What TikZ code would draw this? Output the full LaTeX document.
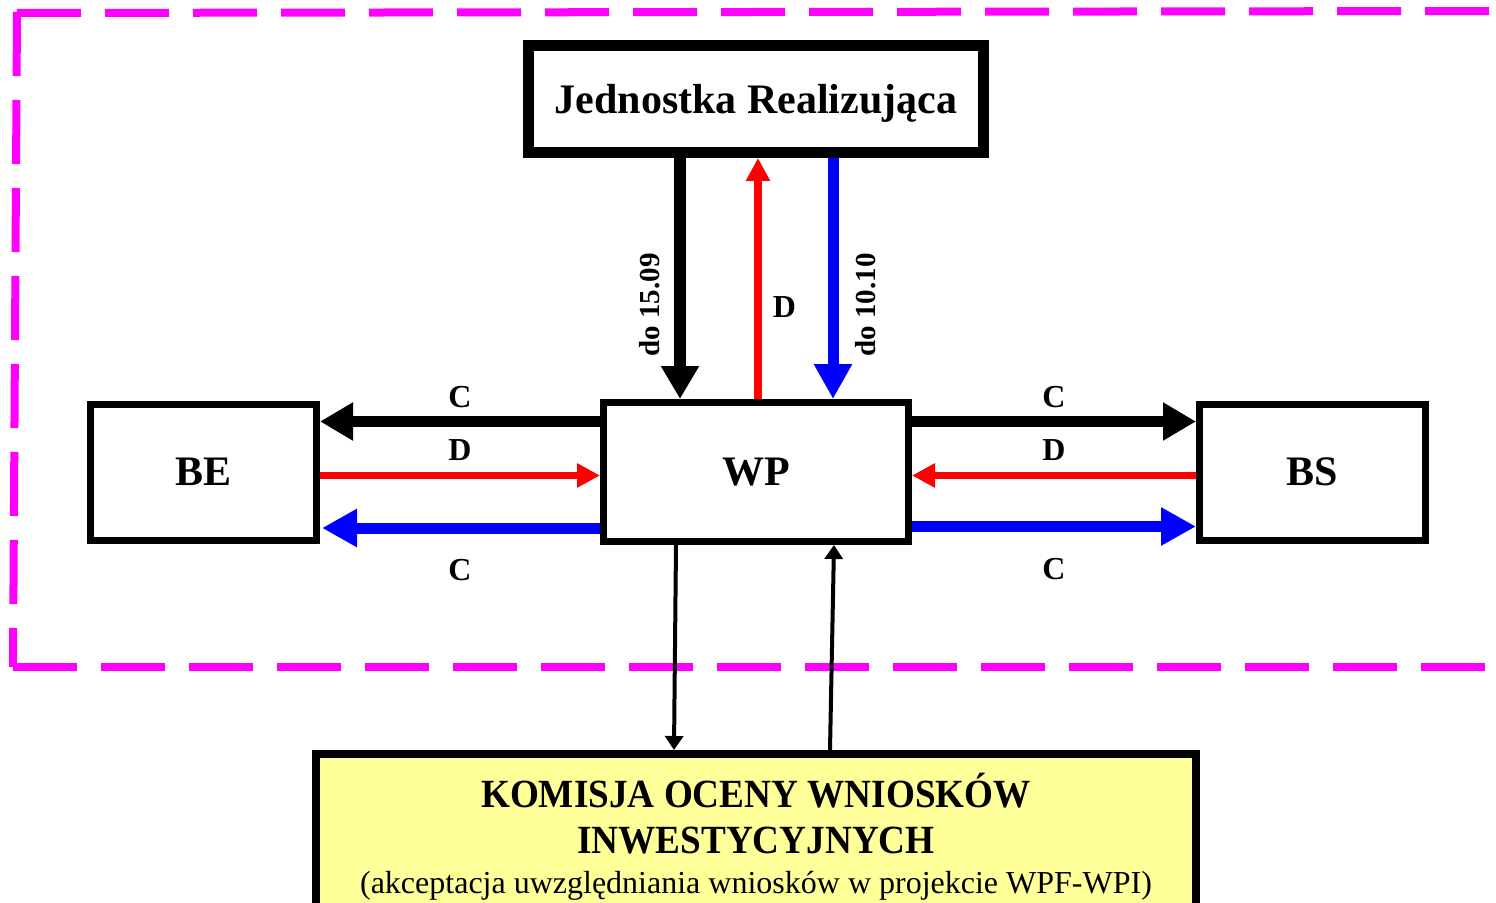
\documentclass[tikz,border=0pt]{standalone}
\usepackage{fontspec}
\setmainfont{Liberation Serif}
\newfontfamily\komfont[FakeStretch=0.93]{Liberation Serif}
\usetikzlibrary{arrows.meta, positioning}
\definecolor{framepink}{RGB}{255,0,255}
\definecolor{komfill}{RGB}{255,255,153}
\definecolor{flowred}{RGB}{255,0,0}
\definecolor{flowblue}{RGB}{0,0,255}
\tikzset{
  unit/.style={rectangle, draw=black, line width=3.5pt, fill=white, minimum width=113pt,
               minimum height=68pt, inner sep=0pt, font=\bfseries\fontsize{21}{25}\selectfont},
  jrbox/.style={unit, line width=5.5pt, minimum width=227.5pt, minimum height=53.5pt, text depth=0pt},
  wpbox/.style={unit, minimum width=152.5pt, minimum height=69.5pt},
  kombox/.style={rectangle, draw=black, line width=4pt, fill=komfill, text width=420pt,
                 inner xsep=10pt, inner ysep=9.5pt, align=flush center, font=\komfont\bfseries\fontsize{20}{23}\selectfont},
  frame/.style={draw=framepink, line width=4pt, dash pattern=on 32pt off 12pt},
  blkarr/.style={-{Triangle[length=16.5pt, width=18pt]}, line width=5.75pt, draw=black},
  redarr/.style={-{Triangle[length=11.5pt, width=11.5pt]}, line width=3.75pt, draw=flowred},
  bluarr/.style={-{Triangle[length=17.5pt, width=18pt]}, line width=5.5pt, draw=flowblue},
  thinarr/.style={-{Triangle[length=7pt, width=9pt]}, line width=2pt, draw=black},
  lbl/.style={font=\bfseries\fontsize{16}{19}\selectfont},
  datelbl/.style={font=\bfseries\fontsize{14.5}{17}\selectfont, rotate=90}
}

\begin{document}
\begin{tikzpicture}[x=0.5pt, y=0.5pt]
\clip (0,0) rectangle (1496,902);
% dashed frame (open on the right)
\draw[frame] (17,889) -- (1489,891); \draw[frame] (17,890) -- (13,235); \draw[frame] (13,235) -- (1485,235);
\node[wpbox] (wp) at (756,430) {WP};
\node[jrbox, above=120.5pt of wp] (jr) {Jednostka Realizująca};
\node[unit, left=140pt of wp] (be) {BE};
\node[unit, right=142pt of wp] (bs) {BS};
\node[kombox, below=102.5pt of wp] (kom) {KOMISJA OCENY WNIOSKÓW\\ INWESTYCYJNYCH\\[-3pt]
  {\rmfamily\mdseries\fontsize{16}{20}\selectfont (akceptacja uwzględniania wniosków w projekcie WPF-WPI)\rule[-14pt]{0pt}{0pt}}};
% jr <-> wp
\draw[blkarr] ([xshift=-38pt]jr.south) -- node[datelbl, pos=0.61, anchor=south, inner sep=7pt] {do 15.09} ([xshift=-38pt]wp.north);
\draw[redarr] ([xshift=1pt]wp.north) -- node[lbl, pos=0.38, right, inner sep=5.5pt] {D} ([xshift=1pt]jr.south);
\draw[bluarr] ([xshift=38.5pt]jr.south) -- node[datelbl, pos=0.61, anchor=north, inner sep=8.5pt] {do 10.10} ([xshift=38.5pt]wp.north);
% wp <-> be
\draw[blkarr] ([yshift=25.25pt]wp.west) -- node[lbl, above, inner sep=4pt] {C} ([yshift=25.25pt]be.east);
\draw[redarr] ([yshift=-1.75pt]be.east) -- node[lbl, above, inner sep=5.5pt] {D} ([yshift=-1.75pt]wp.west);
\draw[bluarr, shorten >=1pt] ([yshift=-28pt]wp.west) -- node[lbl, below=8pt, inner sep=5pt] {C} ([yshift=-28pt]be.east);
% wp <-> bs
\draw[blkarr] ([yshift=25.25pt]wp.east) -- node[lbl, above, inner sep=4pt] {C} ([yshift=25.25pt]bs.west);
\draw[redarr] ([yshift=-1.75pt]bs.west) -- node[lbl, above, inner sep=5.5pt] {D} ([yshift=-1.75pt]wp.east);
\draw[bluarr] ([yshift=-27.25pt]wp.east) -- node[lbl, below=8pt, inner sep=5pt] {C} ([yshift=-27.25pt]bs.west);
% wp <-> kom
\draw[thinarr] ([xshift=-40pt]wp.south) -- ([xshift=-41pt]kom.north); \draw[thinarr] ([xshift=37pt]kom.north) -- ([xshift=39pt]wp.south);
\end{tikzpicture}
\end{document}
